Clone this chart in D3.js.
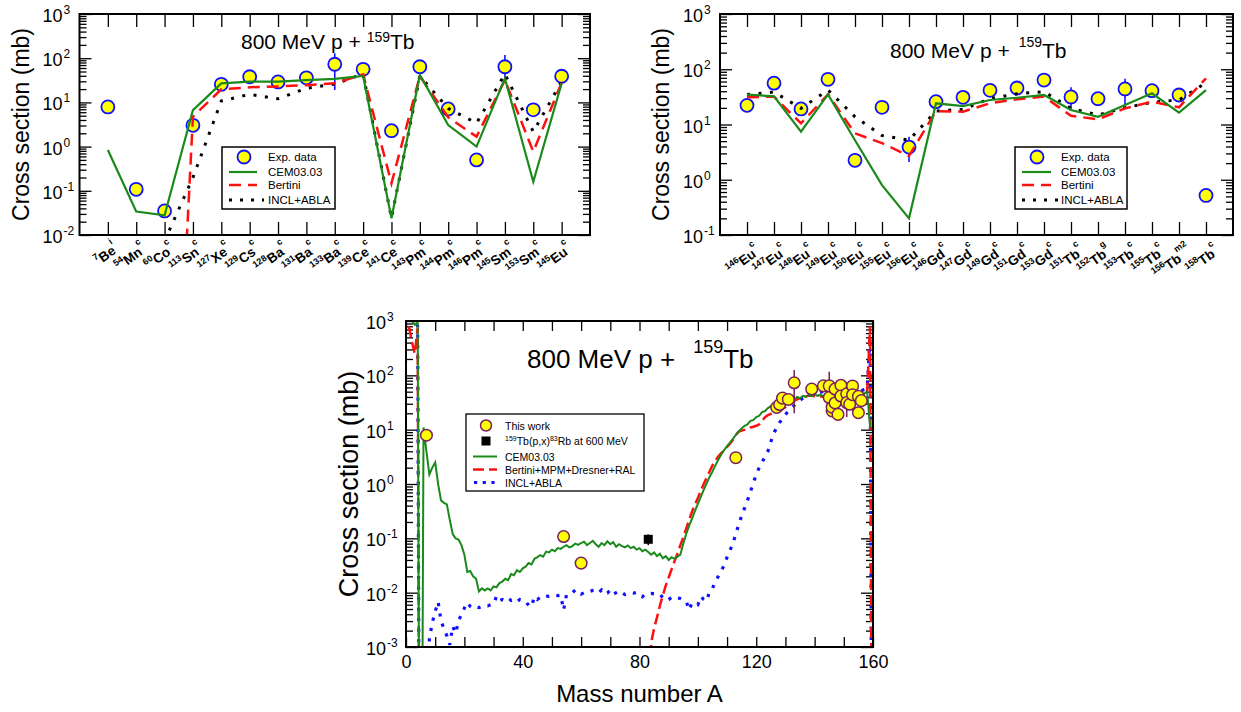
<!DOCTYPE html>
<html>
<head>
<meta charset="utf-8">
<script src="https://cdn.jsdelivr.net/npm/d3@7/dist/d3.min.js"></script>
<style>
 html,body{margin:0;padding:0;background:#fff;}
 svg{display:block;}
 text{font-family:"Liberation Sans",Arial,Helvetica,sans-serif;fill:#000;}
</style>
</head>
<body>
<svg id="chart" width="1241" height="712"></svg>
<script>
// ================= DATA =================
// ---- Top-left panel: nuclide labels [mass, element, type] ----
const tlNuclides = [["7","Be","i"],["54","Mn","c"],["60","Co","c"],["113","Sn","c"],["127","Xe","c"],["129","Cs","c"],["128","Ba","c"],["131","Ba","c"],["133","Ba","c"],["139","Ce","c"],["141","Ce","c"],["143","Pm","c"],["144","Pm","c"],["146","Pm","c"],["145","Sm","c"],["153","Sm","c"],["145","Eu","c"]];
const tlExp     = [7.9,0.108,0.035,3.03,25.7,38,29,36,73,56,2.29,64,7.1,0.50,64,6.8,39];
const tlExpLo   = [null,null,null,null,null,null,null,null,19,null,null,null,null,null,29,null,null];
const tlExpHi   = [null,null,null,null,null,null,null,null,129,null,null,null,null,null,118,null,null];
const tlCEM     = [0.84,0.034,0.028,6.7,27,29.5,29.5,32,34,39.5,0.0239,41.7,3.08,1.0,35,0.16,27];
const tlBertini = [null,null,0,4.75,19.8,22,23,24.5,27,43,0.148,39.5,4.6,1.68,32,0.77,28];
const tlINCL    = [null,null,0.0074,0.2,10.8,15.2,12.1,20.9,26,44,0.024,39.5,7.3,3.4,44,2.17,29.5];

// ---- Top-right panel ----
const trNuclides = [["146","Eu","c"],["147","Eu","c"],["148","Eu","c"],["149","Eu","c"],["150","Eu","c"],["155","Eu","c"],["156","Eu","c"],["146","Gd","c"],["147","Gd","c"],["149","Gd","c"],["151","Gd","c"],["153","Gd","c"],["151","Tb","c"],["152","Tb","g"],["153","Tb","c"],["155","Tb","c"],["156","Tb","m2"],["158","Tb","c"]];
const trExp     = [22.2,56,19.1,65.8,2.25,20.5,3.9,25.9,31,41.6,45.8,63.8,31.5,29.3,44,41,34.2,0.52];
const trExpLo   = [null,null,null,null,null,null,2.1,null,null,null,null,null,18.3,25.5,22.5,null,26,null];
const trExpHi   = [null,null,null,null,null,null,6.0,null,null,null,null,null,47,34,67,null,42,null];
const trCEM     = [34.7,32.4,7.4,35,5.2,0.80,0.20,24.2,21.6,27.8,30.5,34.2,18.3,13.8,22.5,36.7,16.4,42];
const trBertini = [31,31.9,10.5,35,6.9,4.6,2.7,17.5,17.1,24.2,28.6,32,14.4,12.4,19.6,25.9,20.5,68.6];
const trINCL    = [35,38.7,19.6,42,13.8,6.3,5.2,17.5,18.8,29.4,36,39.3,19.6,14.9,20.1,25.2,27.8,57];

// ---- Bottom panel ----
const expMass   = [7,54,60,113,127,128,129,131,133,139,143,145,145,146,146,147,147,148,149,149,151,151,152,153,153,155,155,156];
const expValue  = [7.9,0.108,0.035,3.05,25.7,29,38,36,73,56,64,64,39,22.2,25.9,56,31,19.1,65.8,41.6,45.8,31.5,29.3,63.8,44,20.5,41,34.2];
const expErrLo  = [null,null,null,null,null,null,null,null,20,null,null,32,null,null,null,null,null,null,null,null,null,17,null,null,null,null,null,null];
const expErrHi  = [null,null,null,null,null,null,null,null,126,null,null,117,null,null,null,null,null,null,null,null,null,49,null,null,null,null,null,null];
const rbMass = [83], rbValue = [0.096], rbLo = [0.075], rbHi = [0.118];

const cemStartA = 1;
const cemValues = [
 2000,1000,850,950,0,11,4,1.5,2.0,2.5,
 1.0,0.5,0.45,0.42,0.22,0.12,0.10,0.095,0.075,0.05,
 0.024,0.025,0.020,0.018,0.0105,0.012,0.011,0.012,0.011,0.013,
 0.0125,0.015,0.016,0.018,0.017,0.022,0.021,0.026,0.024,0.028,
 0.030,0.035,0.033,0.042,0.045,0.049,0.046,0.057,0.055,0.062,
 0.058,0.066,0.064,0.070,0.075,0.068,0.072,0.080,0.076,0.082,
 0.087,0.075,0.082,0.090,0.078,0.070,0.082,0.075,0.088,0.078,
 0.085,0.070,0.078,0.072,0.068,0.074,0.066,0.070,0.062,0.066,
 0.058,0.062,0.056,0.050,0.055,0.047,0.052,0.043,0.047,0.040,
 0.045,0.042,0.046,0.050,0.080,0.12,0.17,0.23,0.32,0.43,
 0.58,0.78,1.03,1.35,1.7,2.2,2.8,3.5,4.2,5.0,
 5.8,6.8,8.0,9.3,10.5,11.8,12.5,14.5,15,17,
 18,21,22,25,27,29,31,33,32,37,
 35,38,36,40,38,42,40,44,41,45,
 42,44,41,45,42,44,41,45,42,44,
 41,45,42,46,43,47,46,50,11];

const bertiniLightStartA = 1;
const bertiniLightValues = [800,420,250,750,0];
const bertiniHeavyStartA = 83;
const bertiniHeavyValues = [
 0,0.0012,0.0022,0.0035,0.0058,0.009,0.0135,0.019,
 0.027,0.038,0.052,0.075,0.105,0.15,0.22,0.31,0.42,0.55,
 0.75,1.0,1.3,1.7,2.2,2.7,3.2,3.7,4.2,4.8,
 5.5,6.5,8.0,9.2,9.6,9.9,10.5,11.0,11.3,11.8,
 12.5,14.5,17,18.5,19.5,21,22,23,24.5,26,
 28.5,31,34,36,38,40,41,42,43,41,
 40,41,40,41,39,41,40,39,41,40,
 39,41,40,42,43,44,46,50,800,0];

const inclStartA = 1;
const inclValues = [
 2000,1500,1100,800,0,0,0,0.0014,0.0028,0.0045,
 0.0068,0.0030,0.0022,0.0016,0.0011,0.0024,0.0018,0.0030,0.0040,0.0052,
 0.0066,0.0056,0.0052,0.0055,0.0053,0.0056,0.0058,0.0057,0.0060,0.0062,
 0.0085,0.0070,0.0075,0.0072,0.0080,0.0072,0.0075,0.0068,0.0075,0.0072,
 0.0070,0.0058,0.0055,0.0085,0.0075,0.0082,0.0090,0.0088,0.0085,0.0088,
 0.0090,0.0088,0.0090,0.0048,0.0092,0.0095,0.0100,0.0112,0.0108,0.0094,
 0.0100,0.0098,0.0105,0.0110,0.0112,0.0100,0.0112,0.0095,0.0098,0.0112,
 0.0094,0.0100,0.0108,0.0100,0.0092,0.0095,0.0100,0.0098,0.0102,0.0090,
 0.0084,0.0095,0.0096,0.0097,0.0095,0.0096,0.0095,0.0080,0.0072,0.0075,
 0.0082,0.0085,0.0080,0.0078,0.0074,0.0070,0.0048,0.0065,0.0062,0.0060,
 0.0085,0.0075,0.0070,0.0105,0.0120,0.0160,0.020,0.025,0.032,0.045,
 0.060,0.080,0.12,0.18,0.26,0.36,0.50,0.72,1.05,1.5,
 2.0,2.5,3.2,4.0,6.0,8.5,11,13.5,16,19,
 22,25,28,32,35,38,40,42,44,46,
 47,49,50,51,52,53,52,52,51,51,
 50,50,51,50,52,52,55,57,500,0];

const xTickValues = [0,10,20,30,40,50,60,70,80,90,100,110,120,130,140,150,160];
const xLabelValues = [0,40,80,120,160];

// ================= DRAWING =================
const svg = d3.select('#chart');
const defs = svg.append('defs');
const FLOOR = 1e-12;
const val = v => (v <= 0 ? FLOOR : v);
const GREEN = '#1a8a1a', RED = '#ff1010', BLUE = '#1010ff';

function isDecade(v){ const l = Math.log10(v); return Math.abs(l - Math.round(l)) < 1e-6; }
function clean(g){ g.select('.domain').remove(); g.selectAll('.tick line').attr('stroke','#000').attr('stroke-width',1.3); }

function yAxes(g, y, left, right, majorLen, minorLen){
  const t = y.ticks(); const maj = t.filter(isDecade), mn = t.filter(v => !isDecade(v));
  g.append('g').attr('transform',`translate(${left},0)`).call(d3.axisLeft(y).tickValues(maj).tickSize(-majorLen).tickFormat('')).call(clean);
  g.append('g').attr('transform',`translate(${left},0)`).call(d3.axisLeft(y).tickValues(mn).tickSize(-minorLen).tickFormat('')).call(clean);
  g.append('g').attr('transform',`translate(${right},0)`).call(d3.axisRight(y).tickValues(maj).tickSize(-majorLen).tickFormat('')).call(clean);
  g.append('g').attr('transform',`translate(${right},0)`).call(d3.axisRight(y).tickValues(mn).tickSize(-minorLen).tickFormat('')).call(clean);
}
function yLabels(g, y, xEnd, fs, supFs, raise, base){
  y.ticks().filter(isDecade).forEach(v => {
    const e = Math.round(Math.log10(v));
    const yy = y(v) + base;
    g.append('text').attr('x',xEnd).attr('y',yy).attr('text-anchor','end').attr('font-size',fs).text('10');
    g.append('text').attr('x',xEnd+1).attr('y',yy-raise).attr('font-size',supFs).text(e < 0 ? '-' + (-e) : String(e));
  });
}
function clipRect(id, x0, y0, x1, y1){
  defs.append('clipPath').attr('id',id).append('rect').attr('x',x0).attr('y',y0).attr('width',x1-x0).attr('height',y1-y0);
}
function frame(g, x0, y0, x1, y1){
  g.append('rect').attr('x',x0).attr('y',y0).attr('width',x1-x0).attr('height',y1-y0)
   .attr('fill','none').attr('stroke','#000').attr('stroke-width',2);
}
function title(x, y, fs, supFs, raise, gap){
  const t = svg.append('text').attr('x',x).attr('y',y).attr('font-size',fs);
  t.append('tspan').text('800 MeV p +');
  t.append('tspan').attr('font-size',supFs).attr('dx',gap).attr('dy',-raise).text('159');
  t.append('tspan').attr('dy',raise).text('Tb');
}
function yTitle(cx, cy, fs){
  svg.append('text').attr('transform',`translate(${cx},${cy}) rotate(-90)`).attr('text-anchor','middle')
    .attr('dy','0.35em').attr('font-size',fs).text('Cross section (mb)');
}

const dotted = {w:3, dash:'3,8.5'};

function topPanel(p){
  const n = p.labels.length;
  const x = d3.scaleLinear().domain([-1, n]).range([p.left, p.right]);
  const y = d3.scaleLog().domain(p.yDomain).range([p.bottom, p.top]);
  const g = svg.append('g');
  clipRect('clip-'+p.id, p.left, p.top, p.right, p.bottom);
  const idx = d3.range(n);
  g.append('g').attr('transform',`translate(0,${p.bottom})`).call(d3.axisBottom(x).tickValues(idx).tickSize(-13).tickFormat('')).call(clean);
  g.append('g').attr('transform',`translate(0,${p.top})`).call(d3.axisTop(x).tickValues(idx).tickSize(-13).tickFormat('')).call(clean);
  yAxes(g, y, p.left, p.right, 12, 7);
  yLabels(g, y, p.left - 17, 18, 12, 8, 8);

  // category labels
  p.labels.forEach((lab, i) => {
    const t = g.append('text').attr('transform',`translate(${x(i)+p.labDx},${p.labY}) rotate(-36)`).attr('text-anchor','end');
    t.append('tspan').attr('font-size',9).attr('font-weight','bold').attr('dy',-6).text(lab[0]);
    t.append('tspan').attr('font-size',13.5).attr('font-weight','bold').attr('dy',6).text(lab[1]);
    t.append('tspan').attr('font-size',9).attr('font-weight','bold').attr('dy',-10).text(lab[2]);
  });

  const plot = g.append('g').attr('clip-path',`url(#clip-${p.id})`);
  // error bars
  plot.selectAll('line.err').data(idx.filter(i => p.lo[i] != null)).join('line')
    .attr('x1', i => x(i)).attr('x2', i => x(i)).attr('y1', i => y(p.lo[i])).attr('y2', i => y(p.hi[i]))
    .attr('stroke', BLUE).attr('stroke-width',1.6);
  plot.selectAll('circle.exp').data(p.exp).join('circle')
    .attr('cx', (d,i) => x(i)).attr('cy', d => y(d)).attr('r',6.5)
    .attr('fill','#ffff00').attr('stroke',BLUE).attr('stroke-width',1.8);
  const line = d3.line().defined(d => d != null).x((d,i) => x(i)).y(d => y(val(d)));
  plot.append('path').datum(p.incl).attr('d',line).attr('fill','none').attr('stroke','#000')
    .attr('stroke-width',dotted.w).attr('stroke-dasharray',dotted.dash);
  plot.append('path').datum(p.bertini).attr('d',line).attr('fill','none').attr('stroke',RED)
    .attr('stroke-width',2.5).attr('stroke-dasharray','12,7');
  plot.append('path').datum(p.cem).attr('d',line).attr('fill','none').attr('stroke',GREEN)
    .attr('stroke-width',2.2);
  frame(g, p.left, p.top, p.right, p.bottom);

  // legend
  const L = p.legend;
  g.append('rect').attr('x',L.x0).attr('y',L.y0).attr('width',L.x1-L.x0).attr('height',L.y1-L.y0)
    .attr('fill','#fff').attr('stroke','#000').attr('stroke-width',1.5);
  const rows = L.rows;
  g.append('circle').attr('cx',L.mx).attr('cy',rows[0]).attr('r',6.5).attr('fill','#ffff00').attr('stroke',BLUE).attr('stroke-width',1.8);
  g.append('line').attr('x1',L.lx0).attr('x2',L.lx1).attr('y1',rows[1]).attr('y2',rows[1]).attr('stroke',GREEN).attr('stroke-width',2.2);
  g.append('line').attr('x1',L.lx0).attr('x2',L.lx1).attr('y1',rows[2]).attr('y2',rows[2]).attr('stroke',RED).attr('stroke-width',2.5).attr('stroke-dasharray','12,7');
  g.append('line').attr('x1',L.lx0).attr('x2',L.lx1+7).attr('y1',rows[3]).attr('y2',rows[3]).attr('stroke','#000').attr('stroke-width',dotted.w).attr('stroke-dasharray','3,8');
  ['Exp. data','CEM03.03','Bertini','INCL+ABLA'].forEach((s,k) => {
    g.append('text').attr('x',L.tx).attr('y',rows[k]+4).attr('font-size',11.5).text(s);
  });
}

// ---- Top-left ----
topPanel({id:'tl', labels:tlNuclides, left:79.5, right:590, top:14, bottom:235, yDomain:[1e-2,1e3],
  exp:tlExp, lo:tlExpLo, hi:tlExpHi, cem:tlCEM, bertini:tlBertini, incl:tlINCL, labDx:11, labY:251,
  legend:{x0:222,y0:147,x1:335,y1:209,rows:[157,172,185,200],mx:244,lx0:229,lx1:257,tx:268}});
title(241, 49, 21, 14, 7, 6);
yTitle(21, 124.5, 23);

// ---- Top-right ----
topPanel({id:'tr', labels:trNuclides, left:720, right:1233, top:14, bottom:235, yDomain:[1e-1,1e3],
  exp:trExp, lo:trExpLo, hi:trExpHi, cem:trCEM, bertini:trBertini, incl:trINCL, labDx:14, labY:253,
  legend:{x0:1015,y0:147,x1:1127,y1:209,rows:[157,172,185,200],mx:1037,lx0:1022,lx1:1051,tx:1061}});
title(890, 58, 21, 14, 11, 9);
yTitle(661, 124.5, 23);

// ---- Bottom ----
(function(){
  const left = 406, right = 873, top = 321, bottom = 647;
  const x = d3.scaleLinear().domain([0,160]).range([left,right]);
  const y = d3.scaleLog().domain([1e-3,1e3]).range([bottom,top]);
  const g = svg.append('g');
  clipRect('clip-b', left, top, right, bottom);
  g.append('g').attr('transform',`translate(0,${bottom})`).call(d3.axisBottom(x).tickValues(xTickValues).tickSize(-10).tickFormat('')).call(clean);
  g.append('g').attr('transform',`translate(0,${top})`).call(d3.axisTop(x).tickValues(xTickValues).tickSize(-10).tickFormat('')).call(clean);
  const xl = g.append('g').attr('transform',`translate(0,${bottom})`)
    .call(d3.axisBottom(x).tickValues(xLabelValues).tickSize(0).tickPadding(8).tickFormat(d3.format('d')));
  xl.select('.domain').remove();
  xl.attr('font-size',18);
  yAxes(g, y, left, right, 12, 7);
  yLabels(g, y, left - 20, 18, 12, 8, 8);

  const plot = g.append('g').attr('clip-path','url(#clip-b)');
  const seq = (start, arr) => arr.map((v,i) => [start + i, v]);
  const line = d3.line().x(d => x(d[0])).y(d => y(val(d[1])));
  plot.append('path').datum(seq(inclStartA, inclValues)).attr('d',line).attr('fill','none').attr('stroke',BLUE)
    .attr('stroke-width',3.2).attr('stroke-dasharray','3.2,7.3');
  [seq(bertiniLightStartA, bertiniLightValues), seq(bertiniHeavyStartA, bertiniHeavyValues)].forEach(s => {
    plot.append('path').datum(s).attr('d',line).attr('fill','none').attr('stroke',RED)
      .attr('stroke-width',2.5).attr('stroke-dasharray','11,5');
  });
  plot.append('path').datum(seq(cemStartA, cemValues)).attr('d',line).attr('fill','none').attr('stroke',GREEN)
    .attr('stroke-width',2);

  const PURPLE = '#7a1f5c';
  const ei = d3.range(expMass.length);
  plot.selectAll('line.eb').data(ei.filter(i => expErrLo[i] != null)).join('line')
    .attr('x1', i => x(expMass[i])).attr('x2', i => x(expMass[i]))
    .attr('y1', i => y(expErrLo[i])).attr('y2', i => y(expErrHi[i]))
    .attr('stroke',PURPLE).attr('stroke-width',1.5);
  plot.selectAll('line.rb').data(d3.range(rbMass.length)).join('line')
    .attr('x1', i => x(rbMass[i])).attr('x2', i => x(rbMass[i]))
    .attr('y1', i => y(rbLo[i])).attr('y2', i => y(rbHi[i]))
    .attr('stroke','#000').attr('stroke-width',1.5);
  plot.selectAll('rect.rb').data(d3.range(rbMass.length)).join('rect')
    .attr('x', i => x(rbMass[i]) - 4.5).attr('y', i => y(rbValue[i]) - 4.5).attr('width',9).attr('height',9).attr('fill','#000');
  plot.selectAll('circle.ex').data(ei).join('circle')
    .attr('cx', i => x(expMass[i])).attr('cy', i => y(expValue[i])).attr('r',5.8)
    .attr('fill','#ffff00').attr('stroke',PURPLE).attr('stroke-width',1.5);
  frame(g, left, top, right, bottom);

  // legend
  g.append('rect').attr('x',466).attr('y',414).attr('width',178).attr('height',77)
    .attr('fill','#fff').attr('stroke','#000').attr('stroke-width',1.3);
  const rows = [425.5, 441, 456.5, 469.5, 482.5];
  g.append('circle').attr('cx',486).attr('cy',rows[0]).attr('r',5.5).attr('fill','#ffff00').attr('stroke',PURPLE).attr('stroke-width',1.5);
  g.append('rect').attr('x',481.5).attr('y',rows[1]-4.5).attr('width',9).attr('height',9).attr('fill','#000');
  g.append('line').attr('x1',473).attr('x2',497).attr('y1',rows[2]).attr('y2',rows[2]).attr('stroke',GREEN).attr('stroke-width',2);
  g.append('line').attr('x1',473).attr('x2',497).attr('y1',rows[3]).attr('y2',rows[3]).attr('stroke',RED).attr('stroke-width',2.5).attr('stroke-dasharray','11,5');
  g.append('line').attr('x1',474).attr('x2',497).attr('y1',rows[4]).attr('y2',rows[4]).attr('stroke',BLUE).attr('stroke-width',3.2).attr('stroke-dasharray','3.2,5.5');
  const fs = 10.5;
  g.append('text').attr('x',505).attr('y',rows[0]+4).attr('font-size',fs).text('This work');
  const t2 = g.append('text').attr('x',505).attr('y',rows[1]+4).attr('font-size',fs);
  t2.append('tspan').attr('font-size',7).attr('dy',-4).text('159');
  t2.append('tspan').attr('dy',4).text('Tb(p,x)');
  t2.append('tspan').attr('font-size',7).attr('dy',-4).text('83');
  t2.append('tspan').attr('dy',4).text('Rb at 600 MeV');
  g.append('text').attr('x',505).attr('y',rows[2]+4).attr('font-size',fs).text('CEM03.03');
  g.append('text').attr('x',505).attr('y',rows[3]+4).attr('font-size',fs).text('Bertini+MPM+Dresner+RAL');
  g.append('text').attr('x',505).attr('y',rows[4]+4).attr('font-size',fs).text('INCL+ABLA');

  svg.append('text').attr('x',(left+right)/2).attr('y',702).attr('text-anchor','middle').attr('font-size',24).text('Mass number A');
})();
title(527, 368, 26, 18, 15, 18);
yTitle(349, 484, 27);
</script>
</body>
</html>
